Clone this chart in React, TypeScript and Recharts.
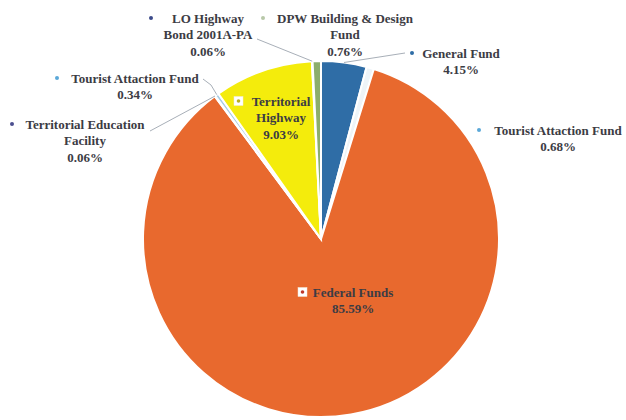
import React from 'react';
import { PieChart, Pie, Cell } from 'recharts';

const categories = [
  'General Fund',
  'Tourist Attaction Fund',
  'Federal Funds',
  'Territorial Education Facility',
  'Tourist Attaction Fund',
  'Territorial Highway',
  'LO Highway Bond 2001A-PA',
  'DPW Building & Design Fund',
];
const values = [4.15, 0.68, 85.59, 0.06, 0.34, 9.03, 0.06, 0.76];
const percentLabels = ['4.15%', '0.68%', '85.59%', '0.06%', '0.34%', '9.03%', '0.06%', '0.76%'];
const labelLines = [
  ['General Fund'],
  ['Tourist Attaction Fund'],
  ['Federal Funds'],
  ['Territorial Education', 'Facility'],
  ['Tourist Attaction Fund'],
  ['Territorial', 'Highway'],
  ['LO Highway', 'Bond 2001A-PA'],
  ['DPW Building & Design', 'Fund'],
];

const colors = ['#2F6DA6', '#EEF4F8', '#E8692E', '#4B4F8F', '#A8CCE4', '#F4EC0C', '#3B4A8A', '#8CAE6C'];
const bulletColors = ['#2F6DA6', '#5BA8D8', '#E8692E', '#4B4F8F', '#5BA8D8', '#F4EC0C', '#3B4A8A', '#B8C8A8'];

const data = categories.map((name, i) => ({ name, value: values[i], pct: percentLabels[i], lines: labelLines[i] }));

// label layout: text center x, first line center y, bullet x, inside flag, leader start points
const LAYOUT: Record<number, { x: number; y: number; bx: number; inside?: boolean; leader?: number[][] }> = {
  0: { x: 461, y: 53, bx: 412, leader: [[405, 53]] },
  1: { x: 558, y: 130, bx: 479 },
  2: { x: 353, y: 292, bx: 302, inside: true },
  3: { x: 85, y: 124, bx: 12, leader: [[150, 131], [204, 102]] },
  4: { x: 135, y: 78, bx: 57, leader: [[203, 79], [211, 85]] },
  5: { x: 281, y: 101, bx: 238, inside: true },
  6: { x: 208, y: 18, bx: 151, leader: [[257, 39]] },
  7: { x: 345, y: 18, bx: 263 },
};

const RAD = Math.PI / 180;
const FONT = '"Liberation Serif", "Times New Roman", serif';

const renderLabel = (props: any) => {
  const { cx, cy, midAngle, outerRadius, index } = props;
  const lay = LAYOUT[index];
  if (!lay) return null;
  const d = data[index];
  const ex = cx + outerRadius * Math.cos(-midAngle * RAD);
  const ey = cy + outerRadius * Math.sin(-midAngle * RAD);
  const lineH = 16.5;
  const allLines = [...d.lines, d.pct];
  return (
    <g>
      {lay.leader && (
        <polyline
          points={[...lay.leader, [ex, ey]].map((p) => p.join(',')).join(' ')}
          fill="none"
          stroke="#A8AFB8"
          strokeWidth={1}
        />
      )}
      {lay.inside ? (
        <g>
          <rect x={lay.bx - 4} y={lay.y - 4.5} width={9} height={9} fill="#FFFFFF" stroke="#F0E8D8" strokeWidth={0.5} />
          <circle cx={lay.bx + 0.5} cy={lay.y} r={1.8} fill={index === 2 ? '#C0392B' : '#B8B020'} />
        </g>
      ) : (
        <circle cx={lay.bx} cy={lay.y} r={2} fill={bulletColors[index]} />
      )}
      {allLines.map((t, i) => (
        <text
          key={i}
          x={lay.x}
          y={lay.y + i * lineH}
          textAnchor="middle"
          dominantBaseline="central"
          fontFamily={FONT}
          fontWeight="bold"
          fontSize={13}
          fill="#3C3C44"
        >
          {t}
        </text>
      ))}
    </g>
  );
};

export default function App() {
  return (
    <div style={{ position: 'absolute', left: 0, top: 0, width: 626, height: 420, background: '#FFFFFF' }}>
      <PieChart width={626} height={420} margin={{ top: 0, right: 0, bottom: 0, left: 0 }}>
        <Pie
          data={data}
          dataKey="value"
          nameKey="name"
          cx={321}
          cy={239}
          outerRadius={178}
          innerRadius={0}
          startAngle={90}
          endAngle={-270}
          stroke="#FFFFFF"
          strokeWidth={2}
          label={renderLabel}
          labelLine={false}
          isAnimationActive={false}
        >
          {data.map((_, i) => (
            <Cell key={i} fill={colors[i]} />
          ))}
        </Pie>
      </PieChart>
    </div>
  );
}
